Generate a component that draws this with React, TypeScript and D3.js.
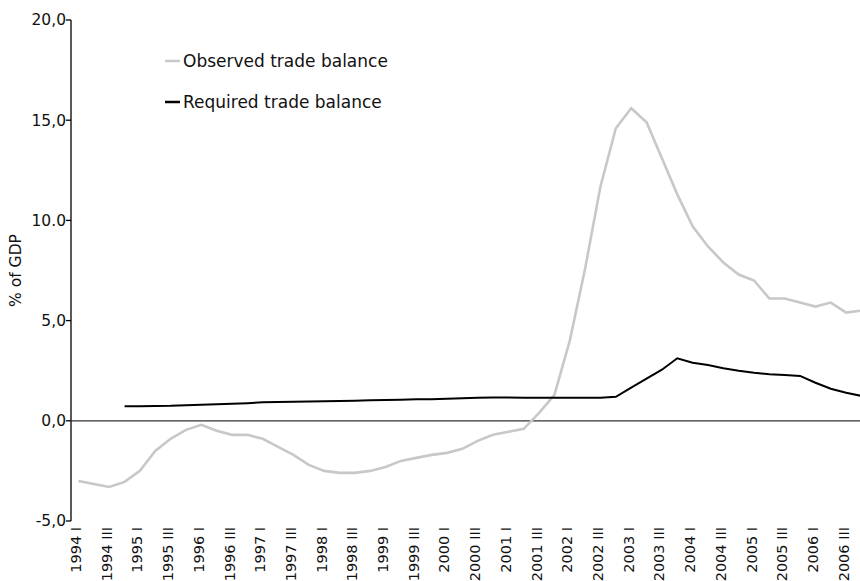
import React from 'react';
import * as d3 from 'd3';

const width = 860;
const height = 581;
const margin = { top: 20, right: 0, bottom: 60, left: 71 };

const years = d3.range(1994, 2007);
const quarterNames = ['I', 'II', 'III', 'IV'];
const quarters = years.flatMap(y => quarterNames.map(q => `${y} ${q}`));

// observed trade balance, % of GDP, 1994 I .. 2006 IV
const observed = [
  -3.0, -3.15, -3.3, -3.05, -2.5, -1.5, -0.9, -0.45, -0.2, -0.5, -0.7, -0.7, -0.9,
  -1.3, -1.7, -2.2, -2.5, -2.6, -2.6, -2.5, -2.3, -2.0, -1.85, -1.7, -1.6, -1.4,
  -1.0, -0.7, -0.55, -0.4, 0.4, 1.3, 4.0, 7.6, 11.7, 14.6, 15.6, 14.9, 13.1,
  11.3, 9.7, 8.7, 7.9, 7.3, 7.0, 6.1, 6.1, 5.9, 5.7, 5.9, 5.4, 5.5
];

// required trade balance, starts 1994 IV
const required = [
  null, null, null, 0.72, 0.73, 0.74, 0.75, 0.78, 0.8, 0.83, 0.85, 0.88, 0.92,
  0.94, 0.95, 0.96, 0.98, 0.99, 1.0, 1.02, 1.04, 1.05, 1.07, 1.08, 1.1, 1.12,
  1.15, 1.16, 1.16, 1.15, 1.15, 1.15, 1.15, 1.15, 1.15, 1.2, 1.65, 2.1, 2.55,
  3.12, 2.9, 2.78, 2.62, 2.5, 2.4, 2.32, 2.28, 2.24, 1.9, 1.6, 1.4, 1.24
];

const yTicks = [-5, 0, 5, 10, 15, 20];
const yTickLabels = ['-5,0', '0,0', '5,0', '10.0', '15,0', '20,0'];

const legendItems = [
  { label: 'Observed trade balance', color: '#c8c8c8' },
  { label: 'Required trade balance', color: '#000' }
];

const font = '"DejaVu Sans", Verdana, sans-serif';

export default function App() {
  const x = d3.scalePoint<string>()
    .domain(quarters)
    .range([78.5, 861.5]);

  const y = d3.scaleLinear()
    .domain([-5, 20])
    .range([height - margin.bottom, margin.top]);

  const line = d3.line<number | null>()
    .defined(d => d != null)
    .x((_, i) => x(quarters[i]) as number)
    .y(d => y(d as number));

  return (
    <svg width={width} height={height} style={{ position: 'absolute', left: 0, top: 0 }}>
      {/* y axis */}
      <line x1={margin.left} x2={margin.left} y1={y(20)} y2={y(-5)} stroke="#000" strokeWidth={1.3} />
      {yTicks.map((t, i) => (
        <g key={t}>
          <line x1={margin.left - 5} x2={margin.left} y1={y(t)} y2={y(t)} stroke="#000" strokeWidth={1.3} />
          <text x={margin.left - 5} y={y(t)} dy="0.35em" textAnchor="end" fontSize={15.5} fontFamily={font} fill="#111">
            {yTickLabels[i]}
          </text>
        </g>
      ))}
      <text transform={`translate(21,${y(7.5)}) rotate(-90)`} textAnchor="middle" fontSize={15.5} fontFamily={font} fill="#111">
        % of GDP
      </text>

      {/* zero line */}
      <line x1={margin.left} x2={width} y1={y(0)} y2={y(0)} stroke="#333" strokeWidth={1.3} />

      {/* x labels */}
      {quarters.filter((_, i) => i % 2 === 0).map(q => (
        <text key={q} transform={`translate(${(x(q) as number) + 2.5},${y(-5) + 6}) rotate(-90)`}
          textAnchor="end" fontSize={14.5} fontFamily={font} fill="#111">
          {q}
        </text>
      ))}

      <path d={line(observed) || ''} fill="none" stroke="#c8c8c8" strokeWidth={2.6} />
      <path d={line(required) || ''} fill="none" stroke="#000" strokeWidth={2} />

      {/* legend */}
      {legendItems.map((item, i) => (
        <g key={item.label} transform={`translate(165,${61 + i * 41})`}>
          <line x1={0} x2={15} y1={0} y2={0} stroke={item.color} strokeWidth={2.5} />
          <text x={18} y={0} dy="0.35em" fontSize={17} fontFamily={font} fill="#111">{item.label}</text>
        </g>
      ))}
    </svg>
  );
}
